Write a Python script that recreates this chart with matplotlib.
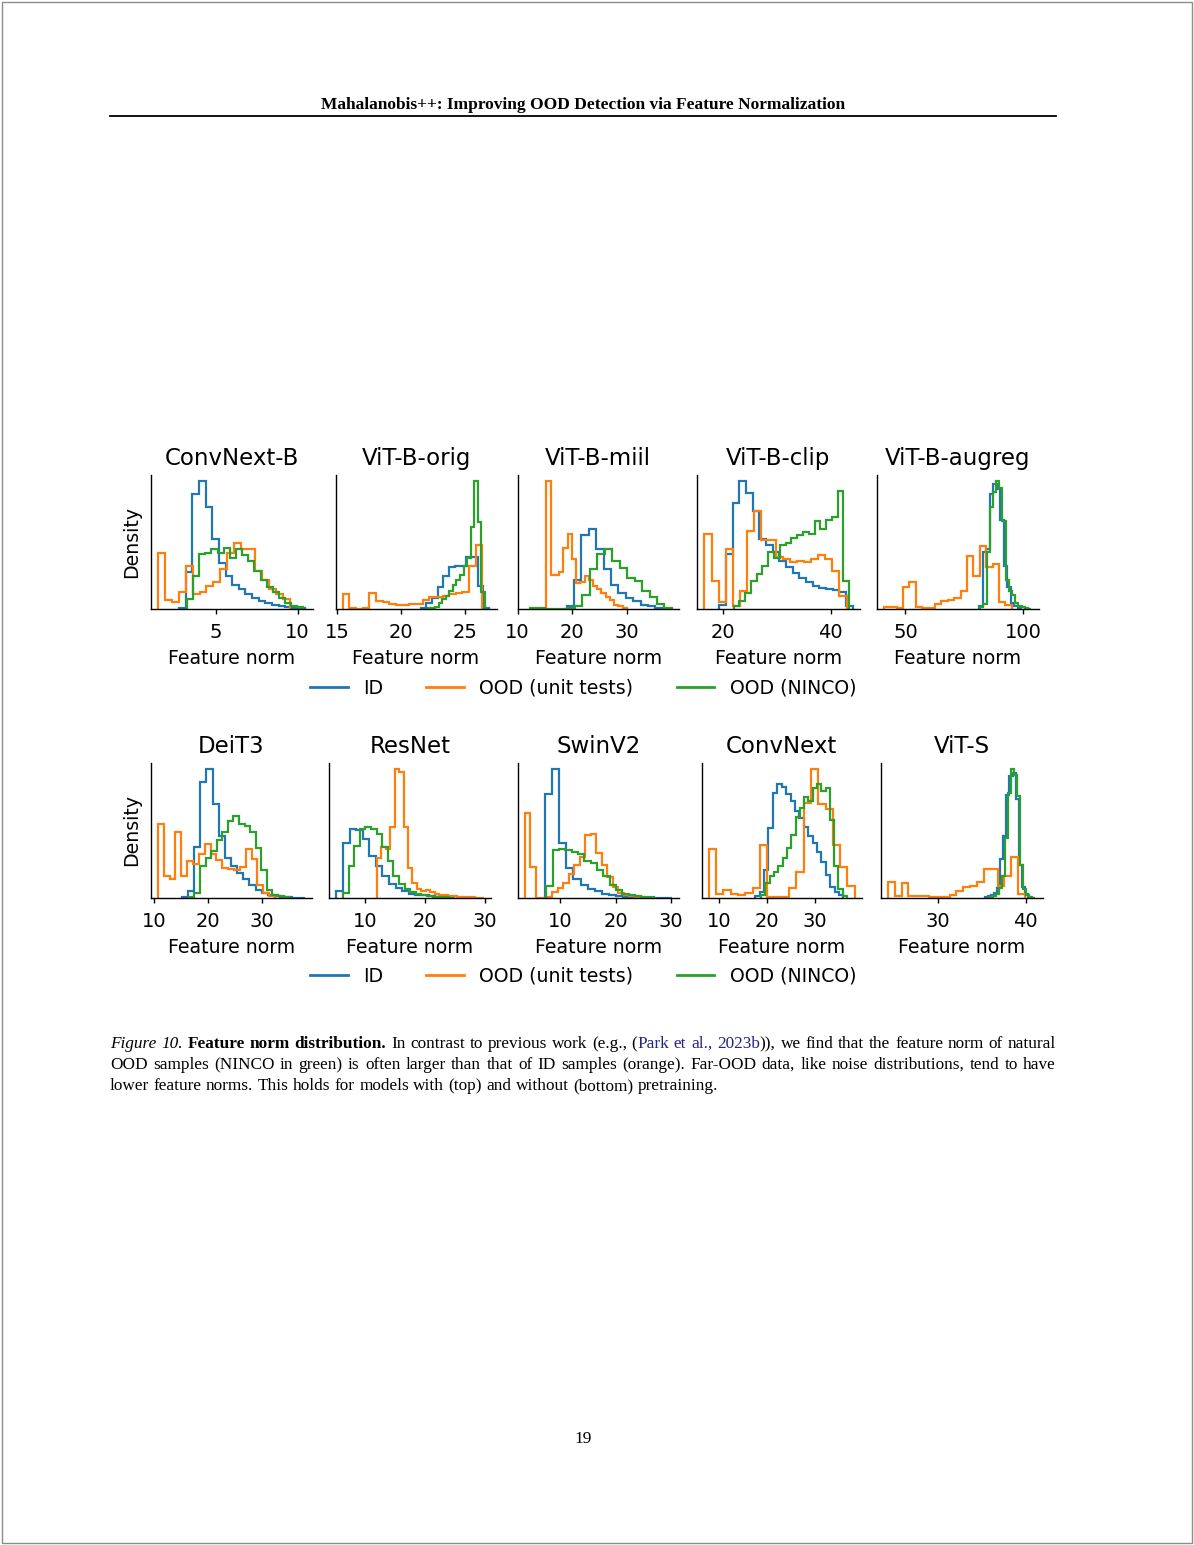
import numpy as np
import matplotlib
matplotlib.use("Agg")
import matplotlib.pyplot as plt
from matplotlib.lines import Line2D
from matplotlib.patches import Rectangle

# ------------------------------------------------------------------ data
series_labels = ["ID", "OOD (unit tests)", "OOD (NINCO)"]
series_colors = ["#1f77b4", "#ff7f0e", "#2ca02c"]

top_models = ["ConvNext-B", "ViT-B-orig", "ViT-B-miil", "ViT-B-clip", "ViT-B-augreg"]
bottom_models = ["DeiT3", "ResNet", "SwinV2", "ConvNext", "ViT-S"]

top_ticks = [[5, 10], [15, 20, 25], [10, 20, 30], [20, 40], [50, 100]]
bottom_ticks = [[10, 20, 30], [10, 20, 30], [10, 20, 30], [10, 20, 30], [30, 40]]

# first bin edge and bin width for (ID, unit tests, NINCO); heights are relative densities
convnext_b_start = [2.76, 1.46, 3.23]
convnext_b_width = [0.405, 0.424, 0.375]
convnext_b_id = [0.5, 29, 90, 100, 80, 55, 36, 26, 19, 15.6, 12, 9, 6.5, 4.7, 3.4, 2.6, 1.8, 1.0, 0.5]
convnext_b_unit = [43.6, 7, 5.2, 13.5, 34, 11.7, 13, 18, 21, 31, 44, 52, 47, 47, 30, 23, 15.6, 11.7, 7.8]
convnext_b_ninco = [7.8, 26, 43, 44, 47, 44, 48, 40, 47, 42, 38, 30, 23, 17, 13, 8.5, 5, 2.6, 1.3]

vit_b_orig_start = [21.545, 15.44, 22.12]
vit_b_orig_width = [0.449, 0.522, 0.2805]
vit_b_orig_id = [0.8, 4.5, 8.7, 17, 26, 33, 33.6, 34, 41, 41, 17.8, 0.5]
vit_b_orig_unit = [11.8, 0.5, 0.3, 0.5, 12.9, 6, 5.2, 4.2, 2.9, 3.1, 3.6, 4.2, 6.8, 9.2, 9.4,
                   10.5, 11.5, 12.5, 13.4, 34, 50]
vit_b_orig_ninco = [0.5, 1, 1.6, 4.5, 7.5, 10.5, 14, 18.5, 22.5, 27, 34, 40, 64, 100, 68, 13]

vit_b_miil_start = [19.0, 15.28, 12.3]
vit_b_miil_width = [1.354, 0.776, 1.366]
vit_b_miil_id = [2.6, 23, 57.7, 63, 47, 31.5, 19, 12.6, 8.7, 6, 3.4, 2, 1]
vit_b_miil_unit = [100, 27, 27, 29, 48, 58.5, 39, 20.5, 21, 25.7, 23, 18.4, 15.5, 12.6, 9.7, 6.8, 3.4, 2, 0.8]
vit_b_miil_ninco = [0.5, 0.5, 0.3, 0, 0.2, 0.5, 2.6, 11.3, 31, 43, 46.7, 37.5, 32, 24.4, 21.8, 14, 9.4, 4.2, 1]

vit_b_clip_start = [19.38, 16.59, 21.98]
vit_b_clip_width = [1.232, 1.316, 1.071]
vit_b_clip_id = [3, 43, 83, 100, 91, 77, 55, 50, 45, 38, 33, 28, 24, 21, 18, 16.5, 15.5, 14.5, 13, 2.6]
vit_b_clip_unit = [59, 22, 5.2, 47, 2, 14, 61, 77, 54, 54, 41, 39, 37, 38, 37, 39, 42, 39, 30, 10]
vit_b_clip_ninco = [2, 6.5, 12.6, 21.8, 27.8, 33.6, 45, 40, 50, 51.5, 56, 58, 60, 59, 69, 63, 70, 72, 92.6, 21.8]

vit_b_augreg_start = [81.41, 40.85, 81.69]
vit_b_augreg_width = [1.479, 2.711, 1.352]
vit_b_augreg_id = [2.6, 45, 47, 90, 98, 94, 70, 34, 17, 5, 2, 0.8]
vit_b_augreg_unit = [1.3, 1.3, 0.5, 17, 21, 1.3, 0.5, 0.5, 3.9, 6.5, 7, 8.3, 14, 41.6, 26, 49, 33, 35, 5.2, 3]
vit_b_augreg_ninco = [1.3, 4, 45, 80, 92, 100, 95, 69, 23, 14, 11, 5, 2.6, 1.3, 0.5, 0.3]

deit3_start = [15.125, 10.69, 16.44]
deit3_width = [1.1375, 1.084, 1.031]
deit3_id = [1, 5.2, 39.7, 90, 100, 73, 48, 31, 25, 19.6, 14.4, 10.4, 6.5, 4, 2.6, 1.3, 0.8, 0.5, 0.3, 0.2]
deit3_unit = [57.4, 17.5, 15, 51.7, 17, 28.7, 26.6, 34.5, 41.8, 34, 29.5, 23.5, 22.7, 22, 24, 37.9, 30,
              10.4, 4, 1.5]
deit3_ninco = [1, 4, 24.8, 31, 36.5, 45, 51, 60, 63.4, 57.4, 56, 51, 39, 22, 6.5, 2.6, 1.3, 0.5]

resnet_start = [5.165, 11.923, 6.264]
resnet_width = [1.099, 0.742, 0.934]
resnet_id = [5.2, 43, 54, 53, 45.7, 33, 24.8, 17, 11, 7.8, 5.2, 3.4, 2.6, 2, 1.3, 0.8]
resnet_unit = [31, 40, 38, 55, 100, 98, 55, 23.5, 12, 7, 5.2, 6.5, 5, 3.4, 2.6, 2, 1.5, 1.2, 0.9, 0.7,
               0.5, 0.4, 0.3, 0.2]
resnet_ninco = [4, 24.8, 40.5, 54, 55, 54, 50, 40, 28.7, 17, 11, 7, 4.4, 3, 2, 1.5, 1, 0.7, 0.5, 0.3]

swinv2_start = [7.289, 3.554, 7.47]
swinv2_width = [1.271, 0.994, 1.145]
swinv2_id = [81, 100, 43, 23, 15, 10, 7.3, 5.2, 3.4, 2, 1.3, 0.8, 0.5, 0.3, 0.2, 0.15, 0.1, 0.1]
swinv2_unit = [66.4, 24.4, 0, 0, 0.8, 4.7, 7.5, 11.3, 19, 25.7, 32, 49, 50, 35, 25.7, 16.5, 8.7, 4, 2,
               1.2, 0.7, 0.4]
swinv2_ninco = [9, 37.5, 38, 37, 35.4, 34, 29, 27, 21.8, 17, 10, 6.6, 3.4, 2, 1.2, 0.7, 0.4]

convnext_start = [17.526, 7.77, 18.78]
convnext_width = [0.927, 1.533, 0.9024]
convnext_id = [1.6, 4.7, 22, 54.6, 82, 89, 86, 81, 75.6, 68, 62, 55, 48, 42.8, 36, 28, 17.8, 8.7, 4.7, 2]
convnext_unit = [38.3, 3.4, 6, 2.9, 2.1, 3.9, 7.9, 41.5, 0.5, 0.5, 1, 7.9, 20.5, 74, 100, 73, 69, 41,
                 24.4, 9.4]
convnext_ninco = [2, 12, 17.3, 20.5, 25.2, 31, 39, 49, 63, 70, 78.7, 75.6, 85.6, 89, 83.5, 85.6, 61,
                  25.2, 7.3, 1.6]

vit_s_start = [35.385, 24.31, 35.885]
vit_s_width = [0.346, 0.781, 0.346]
vit_s_id = [1, 1.8, 2.5, 3.7, 8, 30, 48, 80, 95, 97, 77, 25.5, 8.4, 3, 1]
vit_s_unit = [12.4, 1.8, 11.6, 1.3, 1.3, 1.3, 0.5, 0.5, 0.8, 2.6, 5.8, 8.4, 9, 12.4, 22.9, 22.9, 9.7,
              16.8, 32, 3]
vit_s_ninco = [0.8, 1.5, 3, 8, 17, 47, 82, 100, 96, 79, 25.5, 7, 2, 0.5, 0.3]

top_data = [
    (convnext_b_start, convnext_b_width, [convnext_b_id, convnext_b_unit, convnext_b_ninco]),
    (vit_b_orig_start, vit_b_orig_width, [vit_b_orig_id, vit_b_orig_unit, vit_b_orig_ninco]),
    (vit_b_miil_start, vit_b_miil_width, [vit_b_miil_id, vit_b_miil_unit, vit_b_miil_ninco]),
    (vit_b_clip_start, vit_b_clip_width, [vit_b_clip_id, vit_b_clip_unit, vit_b_clip_ninco]),
    (vit_b_augreg_start, vit_b_augreg_width, [vit_b_augreg_id, vit_b_augreg_unit, vit_b_augreg_ninco]),
]
bottom_data = [
    (deit3_start, deit3_width, [deit3_id, deit3_unit, deit3_ninco]),
    (resnet_start, resnet_width, [resnet_id, resnet_unit, resnet_ninco]),
    (swinv2_start, swinv2_width, [swinv2_id, swinv2_unit, swinv2_ninco]),
    (convnext_start, convnext_width, [convnext_id, convnext_unit, convnext_ninco]),
    (vit_s_start, vit_s_width, [vit_s_id, vit_s_unit, vit_s_ninco]),
]

header_text = "Mahalanobis++: Improving OOD Detection via Feature Normalization"
caption_lines = [
    [("Figure 10.", "it"), (" ", "rm"), ("Feature norm distribution.", "bf"),
     (" In contrast to previous work (e.g., (", "rm"), ("Park et al., 2023b", "link"),
     (")), we find that the feature norm of natural", "rm")],
    [("OOD samples (NINCO in green) is often larger than that of ID samples (orange). "
      "Far-OOD data, like noise distributions, tend to have", "rm")],
    [("lower feature norms. This holds for models with (top) and without (bottom) pretraining.", "rm")],
]
page_number = "19"

# ------------------------------------------------------------------ layout (pixels)
W, H, DPI = 1194, 1545, 100
fig = plt.figure(figsize=(W / DPI, H / DPI), dpi=DPI)
fig.patch.set_facecolor("white")

top_row = dict(bottom=609, top=475, spans=[(150.5, 312.5), (335.5, 496.5), (517.5, 679), (697, 860), (876.5, 1038.5)])
bot_row = dict(bottom=898, top=763, spans=[(150.5, 312), (329, 491), (517.5, 679), (701.5, 862), (880.5, 1042.5)])

FS_TITLE, FS_LABEL, FS_TICK = 16.5, 13.6, 14


def make_axes(row):
    axes = []
    for x0, x1 in row["spans"]:
        ax = fig.add_axes([x0 / W, 1 - row["bottom"] / H, (x1 - x0) / W, (row["bottom"] - row["top"]) / H])
        axes.append(ax)
    return axes


def draw_row(axes, models, data, ticks):
    for i, (ax, name, (starts, widths, heights), tks) in enumerate(zip(axes, models, data, ticks)):
        for s, w, h, c in zip(starts, widths, heights, series_colors):
            edges = s + w * np.arange(len(h) + 1)
            ax.stairs(h, edges, color=c, lw=1.6, baseline=0)
        ax.set_title(name, fontsize=FS_TITLE, pad=7.5)
        ax.set_xlabel("Feature norm", fontsize=FS_LABEL, labelpad=5.5)
        ax.set_xticks(tks)
        ax.tick_params(axis="x", labelsize=FS_TICK, length=3.5, width=1, pad=6.3)
        ax.set_yticks([])
        for sp in ["top", "right"]:
            ax.spines[sp].set_visible(False)
        for sp in ["left", "bottom"]:
            ax.spines[sp].set_linewidth(1.0)
        if i == 0:
            ax.set_ylabel("Density", fontsize=FS_LABEL, labelpad=7)


top_axes = make_axes(top_row)
bot_axes = make_axes(bot_row)
draw_row(top_axes, top_models, top_data, top_ticks)
draw_row(bot_axes, bottom_models, bottom_data, bottom_ticks)

handles = [Line2D([], [], color=c, lw=2) for c in series_colors]
for ycen in (688, 976):
    fig.legend(handles, series_labels, loc="center", bbox_to_anchor=(583 / W, 1 - ycen / H),
               ncol=3, frameon=False, fontsize=FS_LABEL, handlelength=2.0, columnspacing=2.3)

# ------------------------------------------------------------------ page decorations
SERIF = "Liberation Serif"
fig.text(583 / W, 1 - 109 / H, header_text, ha="center", va="baseline", fontfamily=SERIF,
         fontweight="bold", fontsize=12.55)
fig.add_artist(Line2D([110 / W, 1056 / W], [1 - 116 / H, 1 - 116 / H], transform=fig.transFigure,
                      color="black", lw=1.3))
fig.text(583 / W, 1 - 1443 / H, page_number, ha="center", va="baseline", fontfamily=SERIF, fontsize=12.5)
fig.add_artist(Rectangle((2 / W, 2 / H), 1190 / W, 1541 / H, transform=fig.transFigure, fill=False,
                         edgecolor="#8c8c8c", lw=1.0))

# justified caption
styles = {
    "rm": dict(fontfamily=SERIF),
    "it": dict(fontfamily=SERIF, fontstyle="italic"),
    "bf": dict(fontfamily=SERIF, fontweight="bold"),
    "link": dict(fontfamily=SERIF, color="#22228c"),
}
CAP_FS = 12.4
renderer = fig.canvas.get_renderer()


def piece_width(text, style):
    t = fig.text(0, 0, text, fontsize=CAP_FS, **styles[style])
    w = t.get_window_extent(renderer=renderer).width
    t.remove()
    return w


space_w = piece_width("a a", "rm") - piece_width("aa", "rm")
x_left, x_right = 110, 1056
for li, line in enumerate(caption_lines):
    words = [[]]
    for text, style in line:
        parts = text.split(" ")
        for k, p in enumerate(parts):
            if k > 0:
                words.append([])
            if p:
                words[-1].append((p, style))
    words = [w for w in words if w]
    widths = [[piece_width(p, s) for p, s in w] for w in words]
    total = sum(sum(w) for w in widths)
    if li < len(caption_lines) - 1:
        gap = (x_right - x_left - total) / (len(words) - 1)
    else:
        gap = space_w
    y = 1 - (1048 + 21 * li) / H
    x = x_left
    for w, ws in zip(words, widths):
        for (p, s), pw in zip(w, ws):
            fig.text(x / W, y, p, fontsize=CAP_FS, ha="left", va="baseline", **styles[s])
            x += pw
        x += gap

fig.savefig("out.png", dpi=DPI, facecolor="white")
